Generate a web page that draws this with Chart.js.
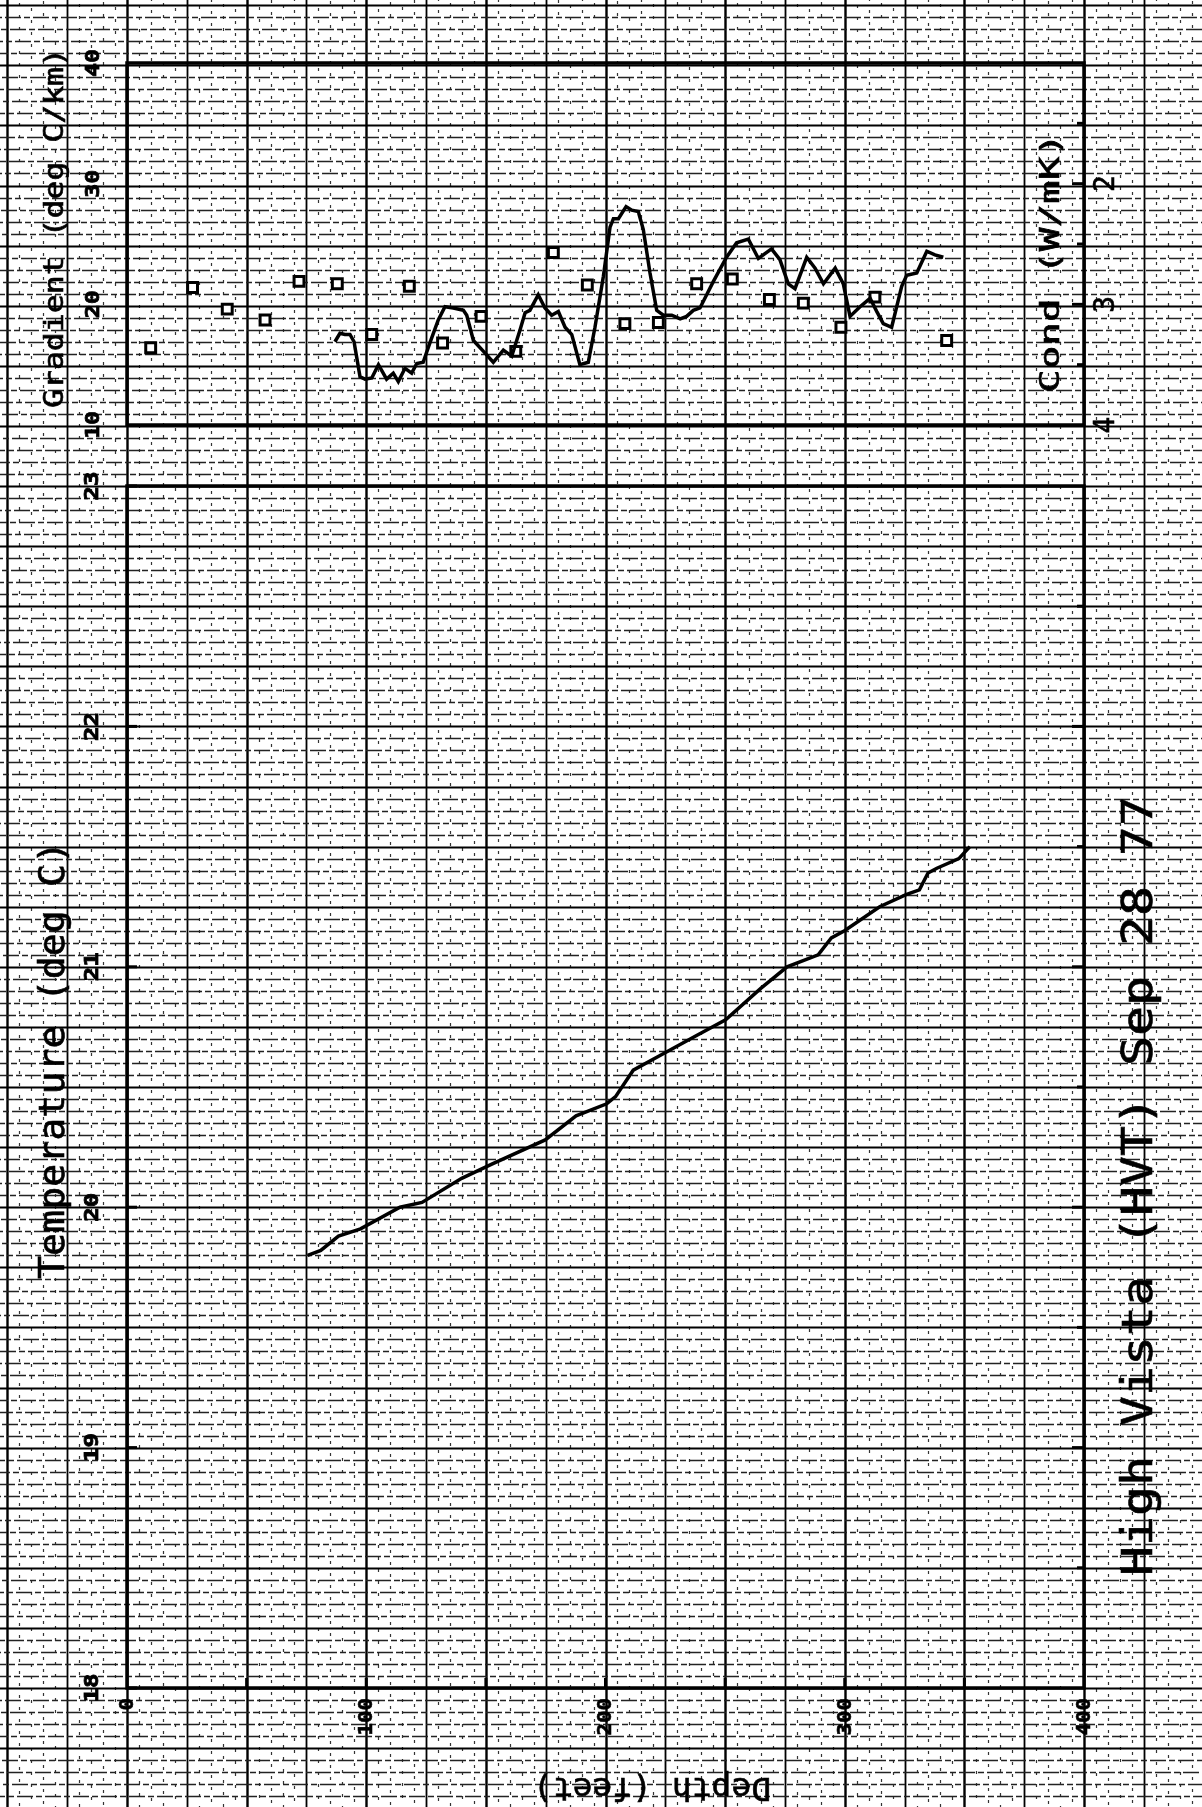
<!DOCTYPE html>
<html>
<head>
<meta charset="utf-8">
<script src="https://cdn.jsdelivr.net/npm/chart.js@4.4.1/dist/chart.umd.min.js"></script>
<style>
  html, body { margin: 0; padding: 0; background: #fff; }
  canvas { display: block; }
</style>
</head>
<body>
<canvas id="log" width="1202" height="1807"></canvas>
<script>
// temperature log, depth in feet
var tempDepth = [75.5, 81.0, 88.4, 97.6, 114.1, 123.3, 139.9, 152.7, 174.8, 187.7, 200.5, 204.2, 211.6, 222.6, 237.3, 250.2, 264.9, 275.9, 288.9, 294.4, 299.9, 314.6, 325.6, 331.2, 334.8, 338.5, 347.7, 352.3]
var tempValue = [19.80, 19.82, 19.88, 19.91, 20.00, 20.02, 20.12, 20.18, 20.28, 20.38, 20.43, 20.46, 20.57, 20.63, 20.71, 20.78, 20.91, 21.00, 21.05, 21.12, 21.15, 21.25, 21.30, 21.32, 21.39, 21.41, 21.45, 21.50]

// running gradient (deg C/km)
var gradDepth = [86.9, 89.0, 91.1, 93.2, 94.9, 97.4, 99.5, 102.3, 105.1, 108.5, 111.3, 113.4, 116.2, 119.0, 121.1, 123.8, 126.6, 130.1, 132.9, 136.4, 140.6, 142.0, 144.8, 149.0, 153.1, 157.3, 160.8, 164.3, 166.4, 168.4, 171.9, 174.7, 177.5, 180.3, 183.1, 185.9, 189.3, 192.8, 195.6, 199.1, 201.9, 203.3, 205.4, 208.6, 211.0, 213.7, 215.8, 218.6, 221.4, 224.2, 227.7, 231.2, 233.9, 236.7, 239.5, 245.1, 250.6, 254.8, 259.7, 263.9, 269.4, 272.9, 276.4, 279.2, 284.1, 287.6, 291.1, 296.0, 299.4, 302.2, 306.4, 310.6, 313.4, 316.1, 319.6, 323.8, 325.9, 330.1, 334.3, 337.7, 341.2]
var gradValue = [16.9, 17.6, 17.5, 17.5, 16.9, 14.0, 13.8, 13.9, 15.0, 13.8, 14.3, 13.6, 14.7, 14.3, 15.1, 15.2, 16.8, 18.7, 19.8, 19.7, 19.5, 19.1, 17.0, 16.1, 15.2, 16.2, 15.7, 17.9, 19.3, 19.5, 20.8, 19.7, 19.1, 19.4, 18.1, 17.5, 15.0, 15.2, 18.1, 22.3, 26.4, 27.1, 27.1, 28.1, 27.8, 27.7, 26.2, 22.6, 19.5, 19.1, 19.1, 18.8, 19.0, 19.5, 19.7, 21.9, 23.9, 25.1, 25.4, 23.8, 24.6, 23.7, 21.7, 21.3, 23.9, 23.0, 21.7, 23.0, 21.7, 19.0, 19.8, 20.5, 19.4, 18.4, 18.1, 21.5, 22.4, 22.6, 24.4, 24.1, 23.9]

// interval gradients (squares)
var intDepth = [9.9, 27.4, 41.9, 57.7, 71.9, 87.9, 102.3, 118.0, 131.9, 148.0, 162.5, 178.2, 192.4, 208.1, 222.1, 238.1, 253.0, 268.5, 282.7, 298.4, 312.6, 342.6]
var intValue = [16.4, 21.4, 19.6, 18.7, 21.9, 21.7, 17.5, 21.5, 16.8, 19.0, 16.1, 24.3, 21.6, 18.4, 18.5, 21.7, 22.1, 20.4, 20.1, 18.1, 20.6, 17.0]

var depthTicks = [0, 100, 200, 300, 400]
var tempTicks = [18, 19, 20, 21, 22, 23]
var gradTicks = [10, 20, 30, 40]
var condTicks = [2, 3, 4]

// page layout in pixels
var W = 1202, H = 1807
var box = { left: 127, right: 1084, tTop: 486, tBottom: 1688, gTop: 63, gBottom: 425 }
var FONT = '"DejaVu Sans Mono", monospace'

var tPerPx = 5 / (box.tBottom - box.tTop)
var gPerPx = 30 / (box.gBottom - box.gTop)

function pairs(xs, ys) {
	return xs.map(function (v, i) { return { x: v, y: ys[i] } })
}

function rotText(ctx, str, x, y, size, len, angle, opt) {
	opt = opt || {}
	ctx.save()
	ctx.font = (opt.weight || 'normal') + ' ' + size + 'px ' + FONT
	ctx.translate(x, y)
	ctx.rotate(angle)
	var w = ctx.measureText(str).width
	if (len) ctx.scale(len / w, 1)
	ctx.textAlign = opt.align || 'center'
	ctx.textBaseline = 'middle'
	ctx.fillStyle = '#000'
	ctx.fillText(str, 0, 0)
	if (opt.stroke) {
		ctx.lineWidth = opt.stroke
		ctx.strokeStyle = '#000'
		ctx.strokeText(str, 0, 0)
	}
	ctx.restore()
}

function line(ctx, x1, y1, x2, y2) {
	ctx.beginPath()
	ctx.moveTo(x1, y1)
	ctx.lineTo(x2, y2)
	ctx.stroke()
}

// graph paper behind everything
var paper = {
	id: 'paper',
	beforeDraw: function (chart) {
		var ctx = chart.ctx, x = chart.scales.x, yT = chart.scales.yT
		ctx.save()
		ctx.fillStyle = '#fff'
		ctx.fillRect(0, 0, W, H)
		ctx.strokeStyle = '#000'
		var k, p
		for (k = -30; k <= 100; k++) {
			p = Math.round(x.getPixelForValue(k * 5)) + 0.5
			if (p < -2 || p > W + 2) continue
			if (k % 5 === 0) {
				ctx.setLineDash([])
				ctx.strokeStyle = '#000'
				ctx.lineWidth = k % 10 === 0 ? 2.4 : 1.8
			} else {
				ctx.setLineDash([3, 9])
				ctx.lineDashOffset = (k * 7) % 12
				ctx.strokeStyle = '#333'
				ctx.lineWidth = 1.2
			}
			line(ctx, p, 0, p, H)
		}
		for (k = -30; k <= 160; k++) {
			p = Math.round(yT.getPixelForValue(18 + k * 0.05)) + 0.5
			if (p < -2 || p > H + 2) continue
			if (k % 5 === 0) {
				ctx.setLineDash([])
				ctx.strokeStyle = '#000'
				ctx.lineWidth = 2.2
			} else {
				ctx.setLineDash([16, 3, 6, 3])
				ctx.lineDashOffset = (k * 5) % 28
				ctx.strokeStyle = '#222'
				ctx.lineWidth = 1.3
			}
			line(ctx, 0, p, W, p)
		}
		ctx.restore()
	}
}

// frames, ticks and lettering
var frames = {
	id: 'frames',
	beforeDatasetsDraw: function (chart) {
		var ctx = chart.ctx, x = chart.scales.x, yT = chart.scales.yT, yG = chart.scales.yG
		var l = x.getPixelForValue(0), r = x.getPixelForValue(400)
		ctx.save()
		ctx.strokeStyle = '#000'
		ctx.lineWidth = 3.5
		ctx.setLineDash([])
		ctx.strokeRect(l, yT.getPixelForValue(23), r - l, yT.getPixelForValue(18) - yT.getPixelForValue(23))
		ctx.strokeRect(l, yG.getPixelForValue(40), r - l, yG.getPixelForValue(10) - yG.getPixelForValue(40))

		ctx.lineWidth = 3
		var b = yT.getPixelForValue(18)
		for (var d = 50; d < 400; d += 50) {
			var px = x.getPixelForValue(d)
			line(ctx, px, b, px, b - 10)
		}
		tempTicks.forEach(function (t) {
			var py = yT.getPixelForValue(t)
			line(ctx, l, py, l + 10, py)
		})
		for (var t = 18.5; t < 23; t += 0.5) {
			var py = yT.getPixelForValue(t)
			line(ctx, r, py, r - (t % 1 === 0 ? 12 : 7), py)
		}
		for (var c = 1.5; c < 4; c += 0.5) {
			var py = yG.getPixelForValue(50 - 10 * c)
			line(ctx, r, py, r - (c % 1 === 0 ? 12 : 7), py)
		}
		ctx.restore()
	},
	afterDraw: function (chart) {
		var ctx = chart.ctx, x = chart.scales.x, yT = chart.scales.yT, yG = chart.scales.yG
		var up = -Math.PI / 2
		tempTicks.forEach(function (t) {
			rotText(ctx, String(t), 93, yT.getPixelForValue(t), 20, 29, up, { weight: 'bold', stroke: 0.8 })
		})
		gradTicks.forEach(function (g) {
			rotText(ctx, String(g), 94, yG.getPixelForValue(g), 20, 28, up, { weight: 'bold', stroke: 0.8 })
		})
		condTicks.forEach(function (c) {
			rotText(ctx, String(c), 1107, yG.getPixelForValue(50 - 10 * c), 28, 0, up, { stroke: 0.6 })
		})
		depthTicks.forEach(function (d) {
			var s = String(d)
			rotText(ctx, s, x.getPixelForValue(d) + 1, 1698, 19, s.length * 12.5, up, { weight: 'bold', align: 'right', stroke: 0.6 })
		})
		rotText(ctx, 'Gradient (deg C/km)', 56, 228, 26, 360, up, { stroke: 0.6 })
		rotText(ctx, 'Cond (W/mK)', 1052, 263, 26, 260, up, { stroke: 0.6 })
		rotText(ctx, 'Temperature (deg C)', 55, 1060, 36, 438, up, { stroke: 0.6 })
		rotText(ctx, 'High Vista (HVT) Sep 28 77', 1141, 1186, 42, 780, up, { stroke: 0.6 })
		rotText(ctx, 'Depth (feet)', 652, 1786, 32, 238, Math.PI, { stroke: 0.6 })
	}
}

var ctx = document.getElementById('log')

var chart = new Chart(ctx, {
	type: 'scatter',
	data: {
		datasets: [{
			label: 'Temperature',
			data: pairs(tempDepth, tempValue),
			yAxisID: 'yT',
			showLine: true,
			borderColor: '#000',
			borderWidth: 3.5,
			pointRadius: 0,
			tension: 0
		}, {
			label: 'Gradient',
			data: pairs(gradDepth, gradValue),
			yAxisID: 'yG',
			showLine: true,
			borderColor: '#000',
			borderWidth: 3.5,
			pointRadius: 0,
			tension: 0
		}, {
			label: 'Interval gradient',
			data: pairs(intDepth, intValue),
			yAxisID: 'yG',
			showLine: false,
			pointStyle: 'rect',
			pointRadius: 7,
			borderWidth: 3,
			borderColor: '#000',
			backgroundColor: '#fff'
		}]
	},
	options: {
		responsive: false,
		devicePixelRatio: 1,
		animation: false,
		layout: {
			padding: { left: box.left, right: W - box.right, top: box.gTop, bottom: H - box.tBottom }
		},
		plugins: {
			legend: { display: false },
			tooltip: { enabled: false }
		},
		scales: {
			x: { type: 'linear', min: 0, max: 400, display: false },
			yT: {
				type: 'linear', display: false,
				min: 18,
				max: 18 + (box.tBottom - box.gTop) * tPerPx
			},
			yG: {
				type: 'linear', display: false,
				min: 10 - (box.tBottom - box.gBottom) * gPerPx,
				max: 40
			}
		}
	},
	plugins: [paper, frames]
})
</script>
</body>
</html>
